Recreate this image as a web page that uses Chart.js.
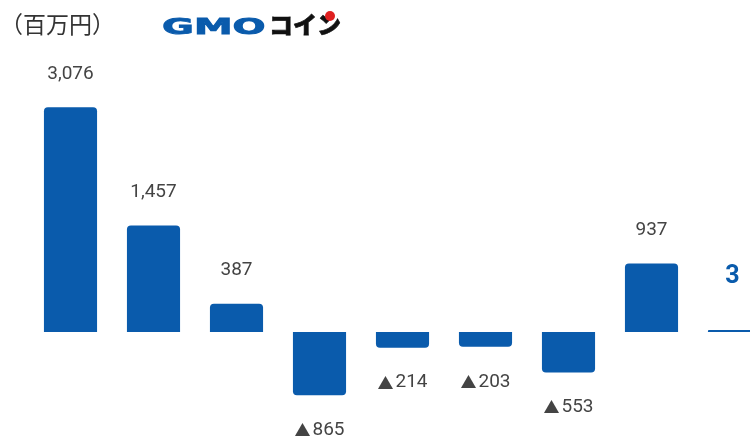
<!DOCTYPE html>
<html>
<head>
<meta charset="utf-8">
<script src="https://cdn.jsdelivr.net/npm/chart.js@4"></script>
<style>
  html, body { margin: 0; padding: 0; background: #fff; overflow: hidden; }
  #wrap { position: relative; width: 780px; height: 439px; }
  #unit { position: absolute; left: 0; top: 8px; font: 23px "Noto Sans CJK JP"; color: #333; line-height: 30px; }
  #logo { position: absolute; left: 162px; top: 6px; height: 30px; line-height: 30px; white-space: nowrap; }
  #logo .gmo { display: inline-block; font: bold 21px "DejaVu Sans"; color: #0a5bac; -webkit-text-stroke: 0.8px #0a5bac; transform: scaleX(1.85); transform-origin: left center; width: 107px; }
  #logo .coin { display: inline-block; font: 900 24px "Noto Sans CJK JP"; color: #111; -webkit-text-stroke: 0.6px #111; letter-spacing: 0px; }
  #dot { position: absolute; left: 325px; top: 11px; width: 10px; height: 10px; border-radius: 50%; background: #e02020; }
</style>
</head>
<body>
<div id="wrap">
  <canvas id="chart" width="780" height="439"></canvas>
  <div id="unit">（百万円）</div>
  <div id="logo"><span class="gmo">GMO</span><span class="coin">コイン</span></div>
  <div id="dot"></div>
</div>
<script>
  // 値（百万円）
  const categories = ['1', '2', '3', '4', '5', '6', '7', '8', '9'];
  const values = [3076, 1457, 387, -865, -214, -203, -553, 937, 3];

  function formatNumber(v) {
    return Math.abs(v).toLocaleString('en-US');
  }

  // ラベル描画
  const labelPlugin = {
    id: 'valueLabels',
    afterDatasetsDraw(chart) {
      const ctx = chart.ctx;
      const meta = chart.getDatasetMeta(0);
      ctx.save();
      ctx.textBaseline = 'middle';
      meta.data.forEach((bar, i) => {
        const v = values[i];
        const last = i === values.length - 1;
        if (last) {
          ctx.textAlign = 'center';
          ctx.font = 'bold 25px Roboto';
          ctx.fillStyle = '#0a5bac';
          ctx.fillText(formatNumber(v), bar.x - 2, bar.base - 55);
          return;
        }
        ctx.fillStyle = '#444';
        if (v >= 0) {
          ctx.textAlign = 'center';
          ctx.font = '19px Roboto';
          ctx.fillText(formatNumber(v), bar.x, bar.y - 33);
        } else {
          // ▲ はマイナス表記
          const y = bar.y + 35;
          ctx.font = '16px "Noto Sans CJK JP"';
          const tw = ctx.measureText('▲').width;
          ctx.font = '19px Roboto';
          const nw = ctx.measureText(formatNumber(v)).width;
          const gap = 2;
          const x0 = bar.x - (tw + gap + nw) / 2;
          ctx.textAlign = 'left';
          ctx.font = '16px "Noto Sans CJK JP"';
          ctx.fillText('▲', x0, y);
          ctx.font = '19px Roboto';
          ctx.fillText(formatNumber(v), x0 + tw + gap, y);
        }
      });
      ctx.restore();
    }
  };

  const ctx = document.getElementById('chart');
  const myChart = new Chart(ctx, {
    type: 'bar',
    data: {
      labels: categories,
      datasets: [{
        data: values,
        backgroundColor: '#0a5bac',
        borderRadius: 4,
        minBarLength: 2,
        categoryPercentage: 1,
        barPercentage: 0.64
      }]
    },
    options: {
      responsive: false,
      animation: false,
      layout: { padding: { left: 29, right: 4, top: 0, bottom: 0 } },
      scales: {
        x: { display: false },
        y: { display: false, min: -1464, max: 4542 }
      },
      plugins: {
        legend: { display: false },
        tooltip: { enabled: false }
      }
    },
    plugins: [labelPlugin]
  });
</script>
</body>
</html>
